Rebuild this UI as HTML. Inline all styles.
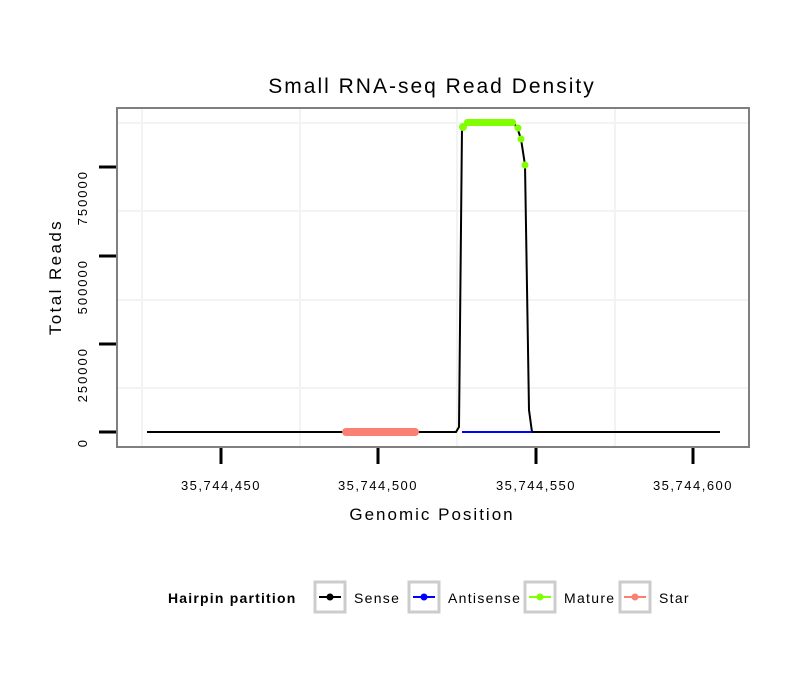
<!DOCTYPE html>
<html><head><style>body{margin:0;background:#fff}svg{display:block;font-family:"Liberation Sans",sans-serif}</style></head><body>
<svg width="810" height="690" viewBox="0 0 810 690">
<rect width="810" height="690" fill="#fff"/>
<text x="432" y="93" font-size="21" letter-spacing="2" text-anchor="middle">Small RNA-seq Read Density</text>
<g stroke="#f3f3f3" stroke-width="2">
<line x1="142" y1="109" x2="142" y2="446"/><line x1="300" y1="109" x2="300" y2="446"/><line x1="457" y1="109" x2="457" y2="446"/><line x1="615" y1="109" x2="615" y2="446"/>
<line x1="117" y1="123" x2="748" y2="123"/><line x1="117" y1="211" x2="748" y2="211"/><line x1="117" y1="300" x2="748" y2="300"/><line x1="117" y1="388" x2="748" y2="388"/>
</g>
<polyline points="147,432 456,432 459,427 462,127 466,123 514,123 518,130 521,139 525,165 529,410 532,432 720,432" fill="none" stroke="#000" stroke-width="2"/>
<line x1="462" y1="432" x2="532" y2="432" stroke="#00f" stroke-width="2"/>
<line x1="346" y1="432" x2="415" y2="432" stroke="#fa8072" stroke-width="8" stroke-linecap="round"/>
<g fill="#7fff00">
<circle cx="463" cy="127" r="4"/><rect x="464" y="119" width="52" height="7" rx="3"/><circle cx="518" cy="128" r="3.5"/><circle cx="521" cy="139" r="3.5"/><circle cx="525" cy="165" r="3.5"/>
</g>
<rect x="117" y="108" width="632" height="339" fill="none" stroke="#7f7f7f" stroke-width="2"/>
<g stroke="#000" stroke-width="3">
<line x1="99" y1="167" x2="116" y2="167"/><line x1="99" y1="256" x2="116" y2="256"/><line x1="99" y1="344" x2="116" y2="344"/><line x1="99" y1="432" x2="116" y2="432"/>
<line x1="221" y1="448" x2="221" y2="464"/><line x1="378" y1="448" x2="378" y2="464"/><line x1="536" y1="448" x2="536" y2="464"/><line x1="693" y1="448" x2="693" y2="464"/>
</g>
<g font-size="13" text-anchor="end" letter-spacing="2">
<text transform="translate(87,438) rotate(-90)">0</text>
<text transform="translate(87,170) rotate(-90)">750000</text>
<text transform="translate(87,259) rotate(-90)">500000</text>
<text transform="translate(87,347) rotate(-90)">250000</text>
</g>
<g font-size="13" text-anchor="middle" letter-spacing="1.5">
<text x="221" y="490">35,744,450</text><text x="378" y="490">35,744,500</text><text x="536" y="490">35,744,550</text><text x="693" y="490">35,744,600</text>
</g>
<text x="432" y="520" font-size="17" letter-spacing="2" text-anchor="middle">Genomic Position</text>
<text transform="translate(61,277) rotate(-90)" font-size="17" letter-spacing="2.4" text-anchor="middle">Total Reads</text>
<text x="168" y="603" font-size="14" font-weight="bold" letter-spacing="1.2">Hairpin partition</text>
<g fill="none" stroke="#ccc" stroke-width="3">
<rect x="315" y="582" width="30" height="30"/><rect x="409" y="582" width="30" height="30"/><rect x="525" y="582" width="30" height="30"/><rect x="620" y="582" width="30" height="30"/>
</g>
<g stroke-width="2">
<line x1="319" y1="597" x2="341" y2="597" stroke="#000"/><line x1="413" y1="597" x2="435" y2="597" stroke="#00f"/><line x1="529" y1="597" x2="551" y2="597" stroke="#7fff00"/><line x1="624" y1="597" x2="646" y2="597" stroke="#fa8072"/>
</g>
<circle cx="330" cy="597" r="3.5" fill="#000"/><circle cx="424" cy="597" r="3.5" fill="#00f"/><circle cx="540" cy="597" r="3.5" fill="#7fff00"/><circle cx="635" cy="597" r="3.5" fill="#fa8072"/>
<g font-size="14" letter-spacing="1.3">
<text x="354" y="603">Sense</text><text x="448" y="603">Antisense</text><text x="564" y="603">Mature</text><text x="659" y="603">Star</text>
</g>
</svg>
</body></html>
